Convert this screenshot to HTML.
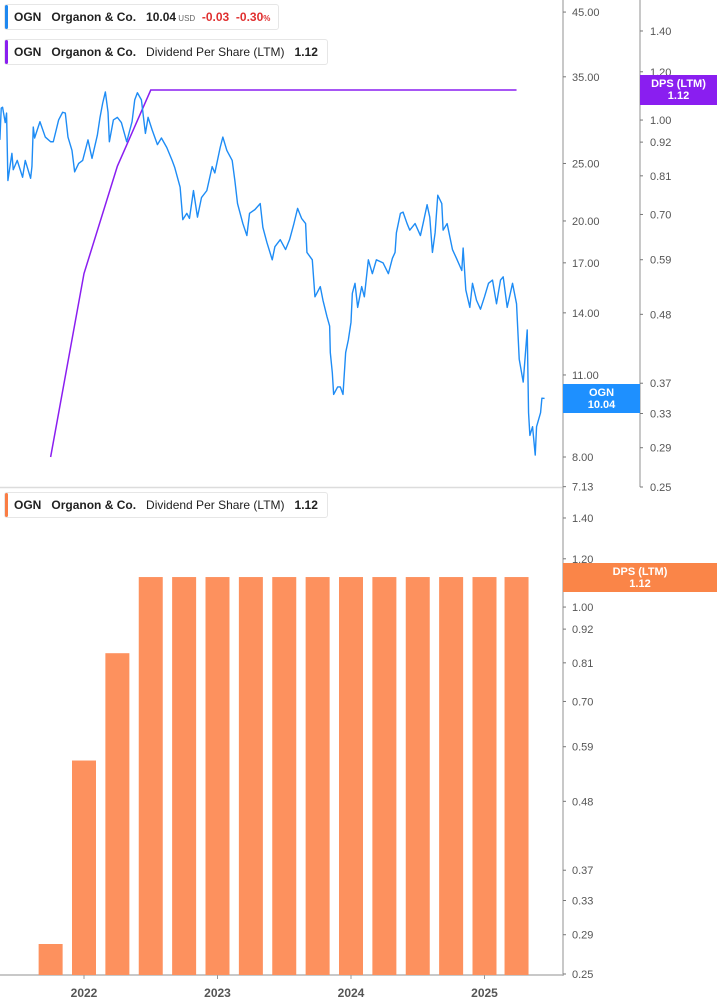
<!DOCTYPE html>
<html><head><meta charset="utf-8">
<style>
html,body{margin:0;padding:0;background:#fff;}
body{width:717px;height:1005px;overflow:hidden;position:relative;font-family:"Liberation Sans",sans-serif;}
.legend{position:absolute;left:4px;height:26px;background:#fff;border:1px solid #e6e6e6;border-radius:3px;box-sizing:border-box;font-size:12px;line-height:24px;color:#222;padding-left:9px;white-space:nowrap;}
.legend .bar{position:absolute;left:0;top:0;bottom:0;width:3px;border-radius:2px;}
.legend b{font-weight:bold;}
.tag{position:absolute;color:#fff;font-weight:bold;font-size:11px;text-align:center;line-height:12px;padding-top:3px;box-sizing:border-box;}
svg text{font-family:"Liberation Sans",sans-serif;}
</style></head>
<body>
<svg id="chart" width="717" height="1005" style="position:absolute;left:0;top:0"></svg>

<div class="legend" style="top:4px;width:275px;">
 <span class="bar" style="background:#1e88f0"></span>
 <b>OGN</b>&nbsp;&nbsp;&nbsp;<b>Organon &amp; Co.</b>&nbsp;&nbsp;&nbsp;<b>10.04</b><span style="font-size:8px;color:#666"> USD</span>&nbsp;&nbsp;<b style="color:#e03030">-0.03</b>&nbsp;&nbsp;<b style="color:#e03030">-0.30<span style="font-size:8px">%</span></b>
</div>
<div class="legend" style="top:39px;width:324px;">
 <span class="bar" style="background:#8a1ef0"></span>
 <b>OGN</b>&nbsp;&nbsp;&nbsp;<b>Organon &amp; Co.</b>&nbsp;&nbsp;&nbsp;Dividend Per Share (LTM)&nbsp;&nbsp;&nbsp;<b>1.12</b>
</div>
<div class="legend" style="top:492px;width:324px;">
 <span class="bar" style="background:#fa7d44"></span>
 <b>OGN</b>&nbsp;&nbsp;&nbsp;<b>Organon &amp; Co.</b>&nbsp;&nbsp;&nbsp;Dividend Per Share (LTM)&nbsp;&nbsp;&nbsp;<b>1.12</b>
</div>

<div class="tag" style="left:563px;top:384px;width:77px;height:29px;background:#1e90ff">OGN<br>10.04</div>
<div class="tag" style="left:640px;top:75px;width:77px;height:30px;background:#8a1ef0">DPS (LTM)<br>1.12</div>
<div class="tag" style="left:563px;top:563px;width:154px;height:29px;background:#fa8548">DPS (LTM)<br>1.12</div>

<script>
const priceDates=[2021.37,2021.38,2021.39,2021.41,2021.42,2021.43,2021.46,2021.47,2021.50,2021.54,2021.56,2021.60,2021.61,2021.62,2021.63,2021.67,2021.71,2021.75,2021.77,2021.81,2021.84,2021.86,2021.88,2021.91,2021.93,2021.96,2021.99,2022.03,2022.06,2022.10,2022.12,2022.14,2022.16,2022.18,2022.19,2022.22,2022.25,2022.28,2022.32,2022.36,2022.38,2022.40,2022.43,2022.46,2022.48,2022.51,2022.55,2022.58,2022.62,2022.66,2022.68,2022.72,2022.74,2022.77,2022.79,2022.82,2022.85,2022.88,2022.92,2022.96,2022.98,2023.02,2023.04,2023.07,2023.11,2023.13,2023.15,2023.19,2023.22,2023.24,2023.28,2023.32,2023.34,2023.37,2023.41,2023.43,2023.47,2023.51,2023.54,2023.57,2023.60,2023.63,2023.66,2023.67,2023.71,2023.73,2023.77,2023.79,2023.82,2023.84,2023.845,2023.86,2023.87,2023.90,2023.92,2023.94,2023.96,2023.98,2024.00,2024.01,2024.03,2024.05,2024.08,2024.10,2024.13,2024.16,2024.19,2024.24,2024.28,2024.31,2024.33,2024.34,2024.37,2024.39,2024.42,2024.44,2024.48,2024.52,2024.54,2024.57,2024.59,2024.61,2024.63,2024.65,2024.68,2024.69,2024.72,2024.76,2024.79,2024.83,2024.84,2024.86,2024.89,2024.91,2024.94,2024.97,2025.00,2025.03,2025.06,2025.09,2025.12,2025.14,2025.17,2025.21,2025.24,2025.26,2025.29,2025.32,2025.33,2025.34,2025.36,2025.38,2025.39,2025.42,2025.43,2025.45];
const priceValues=[27.4,31.0,31.1,29.3,30.4,23.4,26.0,24.4,25.3,23.7,25.3,23.6,24.7,28.8,27.6,29.4,27.7,27.2,27.2,29.6,30.5,30.4,27.7,26.3,24.2,25.0,25.3,27.4,25.5,27.9,29.9,31.6,33.0,30.5,27.2,29.6,29.9,29.3,27.2,29.4,32.0,32.9,32.0,28.1,29.9,28.5,26.9,27.6,26.6,25.3,24.6,22.8,20.1,20.6,20.2,22.5,20.3,21.9,22.5,24.7,24.1,26.6,27.7,26.3,25.3,23.4,21.4,19.8,18.9,20.6,20.9,21.4,19.5,18.4,17.2,18.1,18.6,17.9,18.6,19.7,21.0,20.2,19.8,17.7,17.2,14.9,15.5,14.7,13.8,13.3,12.0,11.1,10.2,10.5,10.5,10.2,12.0,12.6,13.5,15.1,15.7,14.3,15.5,14.9,17.2,16.3,17.2,17.0,16.3,17.3,17.7,19.1,20.6,20.7,19.8,19.3,19.8,18.9,19.8,21.3,20.3,17.7,19.1,22.1,21.4,19.3,19.8,17.9,17.3,16.5,18.0,15.3,14.3,15.7,14.7,14.2,14.9,15.7,15.9,14.5,15.9,16.1,14.3,15.7,14.5,11.7,10.7,13.1,9.5,8.7,9.0,8.06,9.0,9.5,10.05,10.04];
const dpsDates=[2021.75,2022.0,2022.25,2022.5,2022.75,2023.0,2023.25,2023.5,2023.75,2024.0,2024.25,2024.5,2024.75,2025.0,2025.24];
const dpsValues=[0.28,0.56,0.84,1.12,1.12,1.12,1.12,1.12,1.12,1.12,1.12,1.12,1.12,1.12,1.12];
const priceTicks=[45,35,25,20,17,14,11,8,7.13];
const dpsTicks=[1.40,1.20,1.00,0.92,0.81,0.70,0.59,0.48,0.37,0.33,0.29,0.25];
const yearTicks=[2022,2023,2024,2025];

const NS="http://www.w3.org/2000/svg";
const svg=document.getElementById('chart');
function el(tag,attrs,parent){const e=document.createElementNS(NS,tag);for(const k in attrs)e.setAttribute(k,attrs[k]);(parent||svg).appendChild(e);return e;}
const xScale=d=>84+(d-2022)*133.5;
const yPrice=v=>457-257.6*Math.log(v/8);
const yDpsTop=v=>487-264.7*Math.log(v/0.25);
const yDpsBot=v=>974-264.7*Math.log(v/0.25);

// separators and axes
let s=el('line',{x1:0,y1:487.5,x2:563,y2:487.5,stroke:'#dcdcdc','stroke-width':1.5});

let a1=el('line',{x1:563,y1:0,x2:563,y2:976,stroke:'#b5b5b5','stroke-width':1.5});

let a2=el('line',{x1:640,y1:0,x2:640,y2:487,stroke:'#b5b5b5','stroke-width':1.5});

let ax=el('line',{x1:0,y1:975,x2:563,y2:975,stroke:'#b5b5b5','stroke-width':1.5});


priceTicks.forEach(v=>{const y=yPrice(v);
 el('line',{x1:563,y1:y,x2:566,y2:y,stroke:'#777'});
 const t=el('text',{x:572,y:y+4,'font-size':11,fill:'#555'});t.textContent=v.toFixed(2);
 });
dpsTicks.forEach(v=>{const y=yDpsTop(v);
 el('line',{x1:640,y1:y,x2:643,y2:y,stroke:'#777'});
 const t=el('text',{x:650,y:y+4,'font-size':11,fill:'#555'});t.textContent=v.toFixed(2);
 
 const y2=yDpsBot(v);
 el('line',{x1:563,y1:y2,x2:566,y2:y2,stroke:'#777'});
 const t2=el('text',{x:572,y:y2+4,'font-size':11,fill:'#555'});t2.textContent=v.toFixed(2);
 });
yearTicks.forEach(yr=>{const x=xScale(yr);
 el('line',{x1:x,y1:975,x2:x,y2:979,stroke:'#999'});
 const t=el('text',{x:x,y:997,'font-size':12,'font-weight':'bold',fill:'#555','text-anchor':'middle'});t.textContent=yr;
 });

// bars
dpsDates.forEach((d,i)=>{const x=xScale(d),y=yDpsBot(dpsValues[i]);
 const r=el('rect',{x:x-12,y:y,width:24,height:975-y,fill:'#fd915e'});
 });

// dps line
const dl=el('polyline',{points:dpsDates.map((d,i)=>xScale(d)+','+yDpsTop(dpsValues[i])).join(' '),fill:'none',stroke:'#8a1ef0','stroke-width':1.5});


// price line
const pl=el('polyline',{points:priceDates.map((d,i)=>xScale(d)+','+yPrice(priceValues[i])).join(' '),fill:'none',stroke:'#1e8cf5','stroke-width':1.4,'stroke-linejoin':'round'});

</script>
</body></html>
